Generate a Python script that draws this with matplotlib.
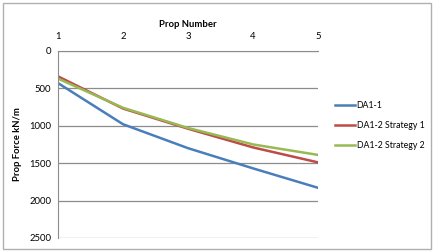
import matplotlib.pyplot as plt
from matplotlib.patches import Rectangle

# ====== Data ======
props = [1, 2, 3, 4, 5]
da1_1 = [430, 980, 1300, 1570, 1830]
da1_2_s1 = [340, 770, 1040, 1290, 1490]
da1_2_s2 = [370, 760, 1030, 1250, 1390]
y_ticks = [0, 500, 1000, 1500, 2000, 2500]

plt.rcParams['font.family'] = ['Lato', 'DejaVu Sans']

fig = plt.figure(figsize=(4.34, 2.52), dpi=100)
fig.patches.append(Rectangle((0.006, 0.01), 0.988, 0.98, transform=fig.transFigure,
                             fill=False, edgecolor='#b0b0b0', linewidth=1.0))

ax = fig.add_axes([0.1336, 0.0556, 0.5994, 0.7424])
ax.plot(props, da1_1, color='#4a7ebb', lw=1.8, label='DA1-1')
ax.plot(props, da1_2_s1, color='#be4b48', lw=1.8, label='DA1-2 Strategy 1')
ax.plot(props, da1_2_s2, color='#98b954', lw=1.8, label='DA1-2 Strategy 2')

ax.set_xlim(1, 5)
ax.set_ylim(2500, 0)
ax.set_yticks(y_ticks)
ax.set_xticks(props)
ax.xaxis.tick_top()
ax.xaxis.set_label_position('top')
ax.tick_params(length=0, labelsize=6.8)
ax.tick_params(axis='x', pad=7)
ax.tick_params(axis='y', pad=5)
ax.grid(axis='y', color='#8c8c8c', lw=0.9)
for s in ['right', 'bottom']:
    ax.spines[s].set_visible(False)
ax.spines['left'].set_color('#8c8c8c')
ax.spines['top'].set_color('#8c8c8c')
ax.set_xlabel('Prop Number', fontsize=6.8, fontweight='bold', labelpad=4)
ax.set_ylabel('Prop Force kN/m', fontsize=6.8, fontweight='bold', labelpad=5)

ax.legend(loc='center left', bbox_to_anchor=(1.035, 0.6), frameon=False,
          fontsize=6.3, handlelength=2.3, handletextpad=0.15, labelspacing=1.25)

fig.savefig('out.png', dpi=100)
